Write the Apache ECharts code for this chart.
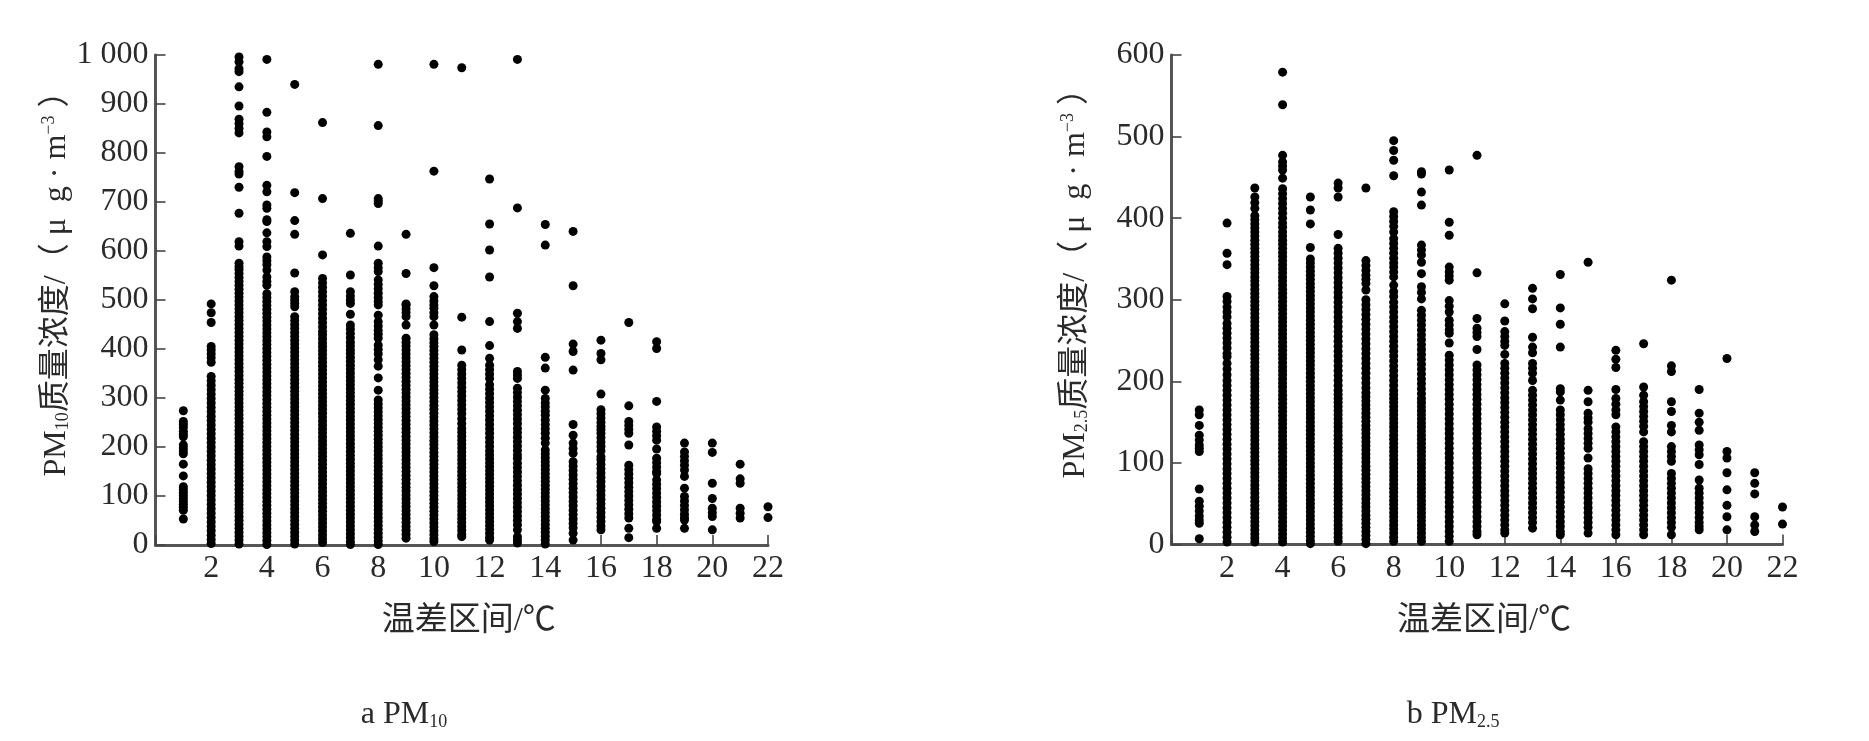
<!DOCTYPE html>
<html><head><meta charset="utf-8">
<style>html,body{margin:0;padding:0;background:#fff}#c{width:1869px;height:741px}</style>
<script src="https://cdn.jsdelivr.net/npm/echarts@6/dist/echarts.min.js"></script>
</head><body><div id="c"></div>
<script>
const xTicks=[2,4,6,8,10,12,14,16,18,20,22];
const pm10Ticks=[0,100,200,300,400,500,600,700,800,900,1000];
const pm25Ticks=[0,100,200,300,400,500,600];
const p1=[274,252,246,240,232,226,221,204,198,192,186,165,141,119,113,107,101,95,89,83,77,71,53];
const p2=[492,474,454,405,398,390,382,373,344,335,326,317,308,299,290,281,272,263,254,245,236,227,218,209,200,191,182,173,164,155,146,137,128,119,110,101,92,83,74,65,56,47,38,29,20,11,3];
const p3=[996,986,972,966,935,896,869,860,850,841,772,762,757,730,677,619,610,575,568,562,554,546,538,530,522,514,506,498,490,482,474,466,458,450,442,434,426,418,410,402,394,386,378,370,362,354,346,338,330,322,314,306,298,290,282,274,266,258,250,242,234,226,218,210,202,194,186,178,170,162,154,146,138,130,122,114,106,98,90,82,74,66,58,50,42,34,26,18,10,2];
const p4=[991,883,843,833,793,734,721,694,687,664,660,637,619,609,588,580,572,561,547,538,530,513,505,497,489,481,473,465,457,449,441,433,425,417,409,401,393,385,377,369,361,353,345,337,329,321,313,305,297,289,281,273,265,257,249,241,233,225,217,209,201,193,185,177,169,161,153,145,137,129,121,113,105,97,89,81,73,65,57,49,41,33,25,17,9,1];
const p5=[940,719,662,634,555,517,507,500,493,486,466,458,450,442,434,426,418,410,402,394,386,378,370,362,354,346,338,330,322,314,306,298,290,282,274,266,258,250,242,234,226,218,210,202,194,186,178,170,162,154,146,138,130,122,114,106,98,90,82,74,66,58,50,42,34,26,18,10,2];
const p6=[862,707,592,544,535,526,517,508,499,490,481,472,463,454,445,436,429,421,413,405,397,389,381,373,365,357,349,341,333,325,317,309,301,293,285,277,269,261,253,245,237,229,221,213,205,197,189,181,173,165,157,149,141,133,125,117,109,101,93,85,77,69,61,53,45,37,29,21,13,5];
const p7=[636,551,517,508,500,493,471,449,441,432,423,414,406,398,391,383,375,367,359,351,343,335,327,319,311,303,295,287,279,271,263,255,247,239,231,223,215,207,199,191,183,175,167,159,151,143,135,127,119,111,103,95,87,79,71,63,55,47,39,31,23,15,7,1];
const p8=[981,856,707,702,697,610,575,566,558,541,532,523,514,505,497,490,469,456,447,438,430,422,408,399,390,378,365,341,316,296,288,280,272,264,256,248,240,232,224,216,208,200,192,184,176,168,160,152,144,136,128,120,112,104,96,88,80,72,64,56,48,40,32,24,16,8,1];
const p9=[634,554,490,482,474,466,492,449,422,414,406,398,390,382,374,366,358,350,342,334,326,318,310,302,294,286,278,270,262,254,246,238,230,222,214,206,198,190,182,174,166,158,150,142,134,126,118,110,102,94,86,78,70,62,54,46,38,30,22,14];
const p10=[981,763,566,529,507,498,490,483,474,466,449,429,421,413,405,397,389,381,373,365,357,349,341,333,325,317,309,301,293,285,277,269,261,253,245,237,229,221,213,205,197,189,181,173,165,157,149,141,133,125,117,109,101,93,85,77,69,61,53,45,37,29,21,13,7];
const p11=[974,465,398,367,358,349,340,331,322,313,304,295,286,277,268,258,248,238,230,222,214,206,198,190,182,174,166,158,150,142,134,126,118,110,102,94,86,78,70,62,54,46,38,30,22,17];
const p12=[747,655,602,547,456,407,381,367,358,349,340,327,318,309,300,291,282,273,264,255,246,237,228,219,210,201,192,184,176,168,160,152,144,136,128,120,112,104,96,88,80,72,64,56,48,40,32,24,16,10];
const p13=[991,688,473,456,442,354,347,340,320,311,302,293,284,275,266,257,248,238,229,220,211,202,193,184,177,167,158,149,140,131,122,113,104,95,86,77,68,59,50,41,31,17,10,4];
const p14=[654,612,383,361,316,299,290,282,273,265,255,246,237,228,218,208,194,186,178,170,162,154,146,138,130,122,114,106,98,90,82,74,66,58,50,42,34,26,18,10,2];
const p15=[640,529,410,395,357,246,224,208,197,187,170,161,152,143,134,125,116,107,98,89,80,71,62,53,44,35,24,10];
const p16=[418,391,378,308,276,268,259,250,242,235,228,219,210,201,192,180,174,165,156,147,138,129,120,111,102,93,84,75,66,57,48,39,31];
const p17=[454,284,252,244,236,228,204,163,154,145,136,127,118,109,100,91,82,73,64,55,34,15];
const p18=[415,401,293,241,232,223,214,196,177,168,159,150,146,133,124,115,106,97,88,79,70,61,52,48,34];
const p19=[208,190,181,172,163,153,140,116,99,90,81,72,63,56,51,34];
const p20=[208,189,126,95,75,66,58,31];
const p21=[165,135,126,75,65,55];
const p22=[78,56];
const q1=[165,159,146,134,128,122,118,114,68,53,47,41,35,30,26,7];
const q2=[394,357,343,304,298,291,285,279,271,265,259,253,247,241,234,230,222,215,208,201,195,189,183,177,171,165,159,153,147,141,135,129,123,117,111,105,99,93,87,81,75,69,63,57,51,45,39,33,27,21,15,9,3];
const q3=[437,426,419,412,403,398,393,388,383,378,373,368,363,358,353,348,343,338,333,328,323,318,313,308,303,298,293,288,283,278,273,268,263,258,253,248,243,238,233,228,223,218,213,208,203,198,193,188,183,178,173,168,163,158,153,148,143,138,133,128,123,118,113,108,103,98,93,88,83,78,73,68,63,58,53,48,43,38,33,28,23,18,13,8,3];
const q4=[579,539,477,469,464,459,449,436,430,424,418,412,406,400,394,389,383,378,373,368,363,358,353,348,343,338,333,328,323,318,313,308,303,298,293,288,283,278,273,268,263,258,253,248,243,238,233,228,223,218,213,208,203,198,193,188,183,178,173,168,163,158,153,148,143,138,133,128,123,118,113,108,103,98,93,88,83,78,73,68,63,58,53,48,43,38,33,28,23,18,13,8,3];
const q5=[426,410,393,364,350,345,340,335,330,325,320,315,310,305,300,295,290,285,280,275,270,265,260,255,250,245,240,235,230,225,220,215,210,205,200,195,190,185,180,175,170,165,160,155,150,145,140,135,130,125,120,115,110,105,100,95,90,85,80,75,70,65,60,55,50,45,40,35,30,25,20,15,10,5,1];
const q6=[443,437,426,380,363,357,351,345,339,333,327,321,315,309,303,297,291,285,279,273,267,261,255,249,243,237,231,225,219,213,207,201,195,189,184,179,174,169,164,159,154,149,144,139,134,129,124,119,114,109,104,99,94,89,84,79,74,69,64,59,54,49,44,39,34,29,24,19,14,9,4];
const q7=[437,348,342,336,330,325,320,312,300,294,288,282,276,270,264,258,252,246,240,234,228,222,216,210,204,198,192,186,181,176,171,166,161,156,151,146,141,136,131,126,121,116,111,106,101,96,91,86,81,76,71,66,61,56,51,46,41,36,31,26,21,16,11,6,1];
const q8=[495,483,471,452,408,402,396,390,383,375,369,363,357,351,345,340,334,328,318,310,304,297,291,285,279,273,267,261,255,249,243,237,231,225,219,213,207,201,195,189,184,179,174,169,164,159,154,149,144,139,134,129,124,119,114,109,104,99,94,89,84,79,74,69,64,59,54,49,44,39,34,29,24,19,14,9,4];
const q9=[457,454,432,416,367,361,355,346,332,316,309,301,287,281,275,269,263,257,251,245,239,233,227,221,215,209,203,197,191,185,179,174,169,164,159,154,149,144,139,134,129,124,119,114,109,104,99,94,89,84,79,74,69,64,59,54,49,44,39,34,29,24,19,14,9,4];
const q10=[459,395,379,340,334,329,324,299,292,285,275,269,263,259,247,232,226,220,214,208,202,196,190,184,178,172,166,160,154,148,142,136,130,124,118,112,106,100,94,88,82,76,70,64,58,52,46,40,34,28,22,16,10,4];
const q11=[477,333,277,265,260,255,239,220,214,208,202,196,190,184,178,172,166,160,154,148,142,136,130,124,118,112,106,100,94,88,82,76,70,64,58,52,46,40,34,28,22,16,12];
const q12=[295,274,261,255,249,244,233,222,216,210,204,198,192,186,180,174,168,162,156,150,144,138,132,126,120,114,108,102,96,90,84,78,72,66,60,54,48,42,36,30,24,18,14];
const q13=[314,301,289,254,242,235,222,216,210,201,189,183,177,171,165,159,153,147,141,135,129,123,117,111,105,99,93,87,81,75,69,63,57,51,45,39,33,27,20];
const q14=[331,290,270,242,191,187,177,165,159,153,147,141,135,129,124,118,112,106,100,94,88,82,76,70,64,58,52,46,40,34,28,22,16,12];
const q15=[346,189,175,161,155,150,142,136,130,124,118,106,93,87,81,75,69,63,57,51,45,39,33,27,21,14];
const q16=[238,227,217,190,179,172,165,159,144,138,132,126,120,114,108,102,96,90,84,78,72,66,60,54,48,42,36,30,24,18,12];
const q17=[246,193,183,175,169,163,157,151,145,138,126,120,114,108,102,96,90,84,78,72,66,60,54,48,42,36,30,24,18,12];
const q18=[324,219,212,175,163,146,138,120,114,108,102,87,81,75,69,63,57,51,45,39,33,27,21,12];
const q19=[190,161,150,140,122,116,110,98,79,69,63,57,51,45,39,33,27,22,18];
const q20=[228,114,106,88,67,48,34,18];
const q21=[88,75,62,34,24,16];
const q22=[46,25];
const pm10Columns=[p1,p2,p3,p4,p5,p6,p7,p8,p9,p10,p11,p12,p13,p14,p15,p16,p17,p18,p19,p20,p21,p22];
const pm25Columns=[q1,q2,q3,q4,q5,q6,q7,q8,q9,q10,q11,q12,q13,q14,q15,q16,q17,q18,q19,q20,q21,q22];
const toPoints=cols=>cols.flatMap((vals,i)=>vals.map(v=>[i+1,v]));

const F="'Liberation Serif','Noto Sans CJK SC',serif", C='#2a2a2a';
const rich={sub:{fontFamily:F,fontSize:18,color:C,verticalAlign:'bottom',lineHeight:32,padding:[11,0,0,0]},
 sup:{fontFamily:F,fontSize:18,color:C,verticalAlign:'top',lineHeight:32,padding:[0,0,8,0]}};
const line={lineStyle:{color:'#555',width:3}};
function xA(g){return {gridIndex:g,type:'value',min:0,max:22,interval:2,splitLine:{show:false},
 axisLine:{onZero:false,...line},axisTick:{inside:true,length:10,lineStyle:{color:'#444',width:1.6}},
 axisLabel:{fontFamily:F,fontSize:32,color:C,margin:8,formatter:v=>xTicks.includes(v)?String(v):''},
 name:'温差区间/℃',nameLocation:'middle',nameGap:60,nameTextStyle:{fontFamily:F,fontSize:33,color:C,padding:[0,0,0,14]}};}
function yA(g,max,iv,ticks,name){return {gridIndex:g,type:'value',min:0,max,interval:iv,splitLine:{show:false},
 axisLine:{onZero:false,...line},axisTick:{inside:true,length:10,lineStyle:{color:'#444',width:1.6}},
 axisLabel:{fontFamily:F,fontSize:32,color:C,margin:7,padding:[3,0,0,0],formatter:v=>ticks.includes(v)?(v===1000?'1 000':String(v)):''},
 name,nameLocation:'middle',nameRotate:90,nameGap:80,nameTextStyle:{fontFamily:F,fontSize:32,color:C,rich,padding:[0,0,0,48]}};}
const sym={type:'scatter',symbol:'circle',symbolSize:9,itemStyle:{color:'#000',opacity:1},emphasis:{disabled:true},silent:true,animation:false,large:false};
const chart=echarts.init(document.getElementById('c'),null,{renderer:'canvas'});
chart.setOption({
 backgroundColor:'#fff',animation:false,
 title:[
  {text:'a PM{sub|10}',left:399,top:694,textAlign:'center',textStyle:{fontFamily:F,fontSize:32,fontWeight:'normal',color:C,rich}},
  {text:'b PM{sub|2.5}',left:1448,top:694,textAlign:'center',textStyle:{fontFamily:F,fontSize:32,fontWeight:'normal',color:C,rich}}
 ],
 grid:[{left:155.5,top:55,width:612.5,height:490},{left:1171.5,top:55,width:611,height:489.5}],
 xAxis:[xA(0),xA(1)],
 yAxis:[yA(0,1000,100,pm10Ticks,'PM{sub|10}质量浓度/（ μ  g · m{sup|−3} ）'),yA(1,600,100,pm25Ticks,'PM{sub|2.5}质量浓度/（ μ  g · m{sup|−3} ）')],
 series:[{...sym,xAxisIndex:0,yAxisIndex:0,data:toPoints(pm10Columns)},{...sym,xAxisIndex:1,yAxisIndex:1,data:toPoints(pm25Columns)}]
});
</script></body></html>
